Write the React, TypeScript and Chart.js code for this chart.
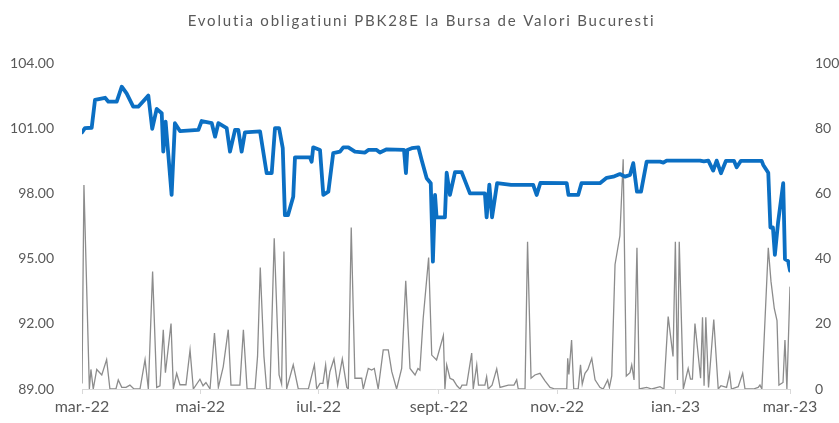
import React, { useEffect, useRef } from "react";
import { Chart, registerables } from "chart.js";

Chart.register(...registerables);

const TITLE = "Evolutia obligatiuni PBK28E la Bursa de Valori Bucuresti";

// x axis: days since 1 Mar 2022
const xTickDays = [0, 61, 122, 184, 245, 306, 365];
const xTickLabels = ["mar.-22", "mai-22", "iul.-22", "sept.-22", "nov.-22", "ian.-23", "mar.-23"];

// bond price (left axis)
const priceDays = [0,1.5,5,6.7,11.9,13.6,17.9,20.5,23,26.4,29,34.2,36.2,38.5,41.1,41.9,43.1,46.2,47.9,50.5,60,61.7,66.9,68.6,70.3,74.6,76.3,78.9,80.6,82.3,84,91.8,95.2,97.8,99.5,101.6,103.5,104.6,106.2,108.9,109.8,117.5,118.4,119.2,122.7,124.4,127,129.5,133,134.7,137.3,140.7,145.9,147.6,151.9,153.6,157.1,166,167,167.7,170,173.4,175.1,177.7,179.8,180.9,182,182.8,187.1,188,189.7,192.3,195.7,200,207.7,208.6,210,211.4,214,221.2,232.6,234.4,236.3,249.9,250.8,255.8,257.5,267,270.5,273.9,277.3,279.9,282.5,284.2,286.1,288.2,291.1,298,299.7,301.4,318.6,320.6,322.9,325.4,327.2,329.4,332,336.1,337.5,339.7,350.4,351.2,353.8,354.9,356.2,357.2,358.9,361.5,362.4,364,365];
const priceValues = [100.81,101.0,101.02,102.3,102.4,102.22,102.22,102.91,102.6,101.99,101.99,102.5,100.97,101.89,101.69,99.92,101.3,97.93,101.23,100.87,100.92,101.33,101.23,100.61,101.23,101.0,99.92,100.92,100.92,99.92,100.81,100.85,98.93,98.93,101.0,101.0,100.08,97.0,97.0,97.85,99.66,99.66,99.46,100.12,100.0,97.93,98.08,99.85,99.92,100.12,100.12,99.92,99.88,100.0,100.0,99.88,100.03,100.0,98.93,100.0,100.08,100.12,99.54,98.7,98.47,94.86,97.93,96.9,96.9,98.95,97.93,98.98,98.98,98.0,98.0,96.9,98.4,96.9,98.47,98.39,98.39,97.93,98.48,98.47,97.93,97.93,98.47,98.47,98.72,98.77,98.89,98.77,98.85,99.39,98.08,98.08,99.46,99.46,99.42,99.51,99.51,99.47,99.51,99.05,99.51,98.93,99.5,99.5,99.2,99.5,99.5,99.31,98.95,96.43,96.43,95.17,96.7,98.47,94.98,94.89,94.45];

// traded volume (right axis)
const volumeDays = [0,1,3.8,4.6,5.8,7.6,10.2,12.7,14.4,17.5,18.7,20.5,22.7,24.7,26.8,29.9,32.5,34.2,36.4,38.5,40.2,41.9,43,45.9,47.1,48.8,50.5,53.6,55.7,57.4,60.8,62.4,63.9,66,68.3,70.3,72.8,75.4,76.8,81.4,83.2,85.1,89.2,90.5,91.9,93.8,95.2,96.9,99.1,101.6,102.9,104.1,105.5,108.9,111.5,116.7,119.8,121,122.7,124.2,125.6,126.7,127.8,129.9,131.8,134.2,136.5,137.3,138.8,140.7,144.2,145,147.6,149.3,150.7,152.7,155.3,157.9,159.7,162.2,164.8,166.9,169.1,171.7,173.2,174.2,175.9,178.7,180.3,182.8,186.3,187.1,188,189.7,191.4,193.3,194.9,195.9,198.3,200.9,201.7,203.5,204.4,207.7,208.6,209.4,211.4,213.8,215.5,219.8,222.7,224.1,224.9,228.4,229.7,231.5,233.5,236.1,238.7,241.3,243.8,249.9,250.4,251,252.4,253.5,255.8,257,257.9,259.3,260.8,262.8,264.5,267,268.7,271,271.9,273.1,274.8,277.3,279,280.6,282.5,283.4,284.6,286.1,287.3,291.1,293.8,298,300,302.2,304.7,305.9,307,307.9,310,312.5,313.7,314.7,316,318.9,319.9,320.7,321.6,323,325.7,328,329.4,332.3,333.9,334.8,338.3,340.6,341.8,346.1,348.6,349.5,350.5,353.8,355.2,356.9,358.3,359.3,361.4,362.4,363.4,365];
const volumeValues = [1.7,62.6,0,6,0,6,4.3,9,0,0,2.8,0.5,0.5,1.2,0,0,9,0,36,0.5,1,18.2,5,20.1,0,4.8,1.3,1.3,12,0,3,1,2,0,17.2,0.5,6.8,18.2,1.2,1.2,18.2,0,0,10,37.3,10,0,0,46.2,4.3,1.5,42.2,0,7.4,0,0,7.4,0,1.7,1.7,7.4,0.5,5.3,9.2,1.2,9.2,0.5,0,49.5,3.3,3.3,0,6.3,5.8,6.3,0,12,12,5.3,0,6.3,33.2,6.3,4.3,6.3,5.8,21.7,40.3,10.4,8.9,16.4,0,7.4,3.3,2.8,1,0,1.2,1.2,11,0,7.4,1.2,1.2,3.8,0,1.2,6.2,0.5,1.2,1.2,2.8,0,0,45.2,3.3,4.3,4.8,2.5,0.5,0,0,9.4,4.5,15,0,0,7.4,1.5,4.8,6,9.4,2.8,0.5,0,2.8,0.5,4,38.2,47,70.5,4,5,7.4,2.8,43.3,0,0.5,0,0.7,0,22.2,10,45.2,2.8,45.2,0,6.3,3,3,20.1,3.3,22,1,22,0.5,21.3,0,1,0.5,4.8,0,0.7,4.8,0,0,0.5,1.2,0,43.3,33,24.7,21,1.2,2,15,0,31.4];

const TEXT = "#595959";
const FONT = "Lato";

const titlePlugin = {
  id: "spacedTitle",
  afterDraw(chart: any) {
    const ctx = chart.ctx as CanvasRenderingContext2D;
    ctx.save();
    ctx.font = `15px ${FONT}`;
    ctx.fillStyle = TEXT;
    ctx.textAlign = "center";
    ctx.textBaseline = "alphabetic";
    (ctx as any).letterSpacing = "1.8px";
    ctx.fillText(TITLE, chart.width / 2 + 2, 26);
    ctx.restore();
  },
};

export default function App() {
  const ref = useRef<HTMLCanvasElement | null>(null);

  useEffect(() => {
    if (!ref.current) return;
    const chart = new Chart(ref.current, {
      type: "line",
      data: {
        datasets: [
          {
            label: "Pret",
            data: priceDays.map((d, i) => ({ x: d, y: priceValues[i] })),
            yAxisID: "y",
            borderColor: "#0B6FC3",
            borderWidth: 3.8,
            borderJoinStyle: "round",
            borderCapStyle: "round",
            pointRadius: 0,
            tension: 0,
            order: 0,
          },
          {
            label: "Volum",
            data: volumeDays.map((d, i) => ({ x: d, y: volumeValues[i] })),
            yAxisID: "y1",
            borderColor: "#8C8C8C",
            borderWidth: 1.3,
            pointRadius: 0,
            tension: 0,
            order: 1,
          },
        ],
      },
      options: {
        responsive: false,
        animation: false,
        devicePixelRatio: 1,
        layout: { padding: { left: 0, right: 0, top: 63, bottom: 0 } },
        plugins: {
          legend: { display: false },
          tooltip: { enabled: false },
          title: { display: false },
        },
        scales: {
          x: {
            type: "linear",
            min: 0,
            max: 365,
            afterBuildTicks: (s: any) => {
              s.ticks = xTickDays.map((v) => ({ value: v }));
            },
            afterFit: (s: any) => {
              s.height = 34;
            },
            ticks: {
              autoSkip: false,
              maxRotation: 0,
              padding: 3,
              color: TEXT,
              font: { family: FONT, size: 16 },
              callback: (v: any) => {
                const i = xTickDays.indexOf(Number(v));
                return i >= 0 ? xTickLabels[i] : "";
              },
            },
            grid: {
              display: true,
              drawOnChartArea: false,
              drawTicks: true,
              tickLength: 5,
              color: "#D9D9D9",
            },
            border: { display: true, color: "#D9D9D9" },
          },
          y: {
            position: "left",
            min: 89,
            max: 104,
            afterFit: (s: any) => {
              s.width = 82;
            },
            ticks: {
              stepSize: 3,
              padding: 20,
              color: TEXT,
              font: { family: FONT, size: 14 },
              callback: (v: any) => Number(v).toFixed(2),
            },
            grid: { display: false },
            border: { display: false },
          },
          y1: {
            position: "right",
            min: 0,
            max: 100,
            afterFit: (s: any) => {
              s.width = 49;
            },
            ticks: {
              stepSize: 20,
              padding: 17,
              color: TEXT,
              font: { family: FONT, size: 14 },
            },
            grid: { display: false },
            border: { display: false },
          },
        },
      },
      plugins: [titlePlugin],
    });
    return () => chart.destroy();
  }, []);

  return (
    <div style={{ position: "absolute", left: 0, top: 0, width: 839, height: 423, background: "#fff" }}>
      <canvas ref={ref} width={839} height={423} />
    </div>
  );
}
